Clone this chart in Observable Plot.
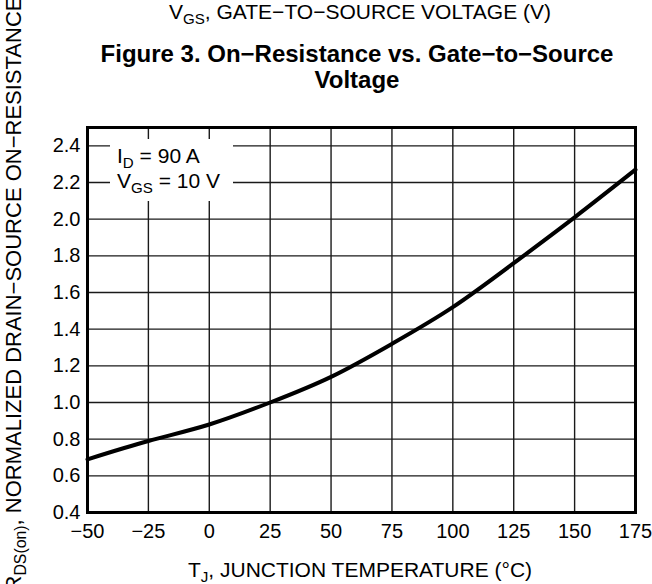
<!DOCTYPE html>
<html><head><meta charset="utf-8">
<script src="https://cdn.jsdelivr.net/npm/d3@7"></script>
<script src="https://cdn.jsdelivr.net/npm/@observablehq/plot@0.6"></script>
<style>
body{margin:0;background:#fff;overflow:hidden}
#wrap{position:relative;width:652px;height:584px;overflow:hidden;font-family:"Liberation Sans",Arial,Helvetica,sans-serif;color:#000;background:#fff}
#wrap svg{position:absolute;left:0;top:0}
.lbl{position:absolute;white-space:nowrap;line-height:1}
sub{font-size:0.72em;vertical-align:-0.3em;line-height:0}
</style></head><body>
<div id="wrap"></div>
<script>
// Data
const temps = [-50, -25, 0, 25, 50, 75, 100, 125, 150, 175];
const rdsOn = [0.69, 0.79, 0.88, 1.00, 1.14, 1.32, 1.52, 1.76, 2.01, 2.27];
const xTicks = [-50, -25, 0, 25, 50, 75, 100, 125, 150, 175];
const yTicks = [0.4, 0.6, 0.8, 1.0, 1.2, 1.4, 1.6, 1.8, 2.0, 2.2, 2.4];

const data = temps.map((t, i) => ({t, r: rdsOn[i]}));
const font = '"Liberation Sans", Arial, Helvetica, sans-serif';

const chart = Plot.plot({
  width: 652,
  height: 584,
  marginLeft: 87,
  marginRight: 17,
  marginTop: 127,
  marginBottom: 72,
  style: {fontFamily: font, fontSize: "20px", color: "#000", background: "transparent", overflow: "visible"},
  x: {domain: [-50, 175]},
  y: {domain: [0.4, 2.5]},
  marks: [
    Plot.gridX(xTicks, {stroke: "#1a1a1a", strokeOpacity: 1, strokeWidth: 1.4}),
    Plot.gridY(yTicks, {stroke: "#1a1a1a", strokeOpacity: 1, strokeWidth: 1.4}),
    Plot.line(data, {x: "t", y: "r", curve: "natural", stroke: "#000", strokeWidth: 4}),
    Plot.frame({stroke: "#000", strokeWidth: 3}),
    Plot.axisX({ticks: xTicks, tickSize: 0, tickPadding: 11, label: null, fontSize: 20, tickFormat: d => d < 0 ? "\u2212" + Math.abs(d) : String(d)}),
    Plot.axisY({ticks: yTicks, tickSize: 0, tickPadding: 7, label: null, fontSize: 20, tickFormat: d3.format(".1f")})
  ]
});

const wrap = document.getElementById("wrap");
wrap.appendChild(chart);

function addLabel(html, css) {
  const d = document.createElement("div");
  d.className = "lbl";
  d.innerHTML = html;
  Object.assign(d.style, css);
  wrap.appendChild(d);
  return d;
}

// top label (x-axis label of the previous figure)
addLabel("V<sub>GS</sub>, GATE\u2212TO\u2212SOURCE VOLTAGE (V)", {left: "360px", top: "1px", transform: "translateX(-50%)", fontSize: "21px"});
// figure title
addLabel("Figure 3. On\u2212Resistance vs. Gate\u2212to\u2212Source<br>Voltage", {left: "357px", top: "41px", transform: "translateX(-50%)", fontSize: "24px", fontWeight: "bold", textAlign: "center", lineHeight: "26px"});
// legend box
addLabel("I<sub>D</sub> = 90 A<br>V<sub>GS</sub> = 10 V", {left: "110px", top: "139px", width: "123px", height: "62px", background: "#fff", fontSize: "21px", lineHeight: "25px", paddingLeft: "7px", boxSizing: "border-box", paddingTop: "4px"});
// x-axis label
addLabel("T<sub>J</sub>, JUNCTION TEMPERATURE (\u00B0C)", {left: "360px", top: "559px", transform: "translateX(-50%)", fontSize: "21px"});
// y-axis label
addLabel("R<sub>DS(on)</sub>, NORMALIZED DRAIN\u2212SOURCE ON\u2212RESISTANCE", {left: "14px", top: "294px", transform: "translate(-50%,-50%) rotate(-90deg)", fontSize: "22px"});
</script>
</body></html>
